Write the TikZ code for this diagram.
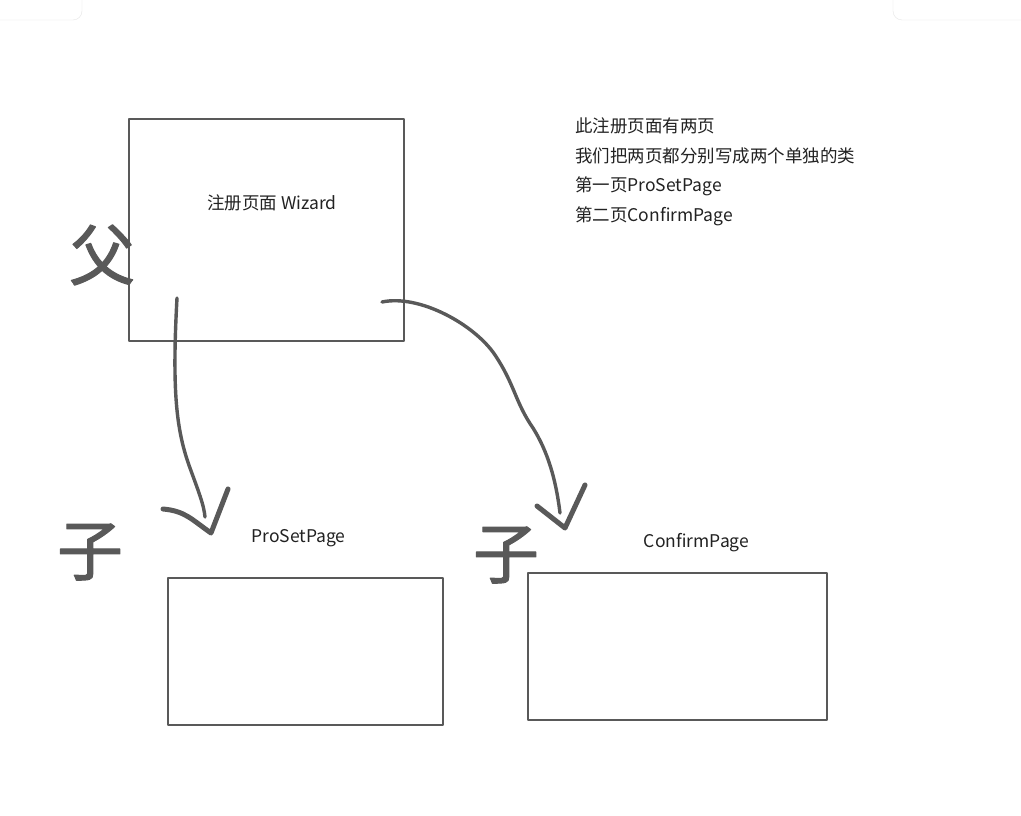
\documentclass[tikz,border=0pt]{standalone}
\usepackage{fontspec}
\newfontfamily\cjk{Noto Sans CJK SC}
\newfontfamily\handfont[FakeBold=1.6]{Noto Sans CJK SC}
\usepackage{tikz}
\usetikzlibrary{positioning}
\definecolor{ink}{RGB}{89,89,89}
\definecolor{txt}{RGB}{34,34,34}

\begin{document}
\begin{tikzpicture}[x=1pt, y=-1pt, line cap=round, line join=round,
  font=\cjk\fontsize{17.5}{21}\selectfont, text=txt,
  cls/.style={rectangle, draw=ink, line width=2.3pt, inner sep=0pt},
  lbl/.style={inner sep=1pt},
  hand/.style={font=\handfont\fontsize{66}{66}\selectfont, text=ink, inner sep=0pt},
  stroke/.style={draw=ink, line width=3.4pt},
  tip/.style={draw=ink, line width=5pt},
  panel/.style={draw=black!10, fill=white, rounded corners=9pt}]
  \useasboundingbox[fill=white] (0,0) rectangle (1021,816);
  \draw[panel] (-12,-12) rectangle (82,20);
  \draw[panel] (893,-12) rectangle (1033,20);
  % classes
  \node[cls, minimum width=275pt, minimum height=222pt] (wiz) at (266.5,230) {};
  \node[lbl] (wiz-lbl) at (272,203) {注册页面 Wizard};
  \node[cls, minimum width=275pt, minimum height=147pt] (pro) at (305.5,651.5) {};
  \node[lbl, above=29pt of pro.north, xshift=-7pt] (pro-lbl) {ProSetPage};
  \node[cls, minimum width=299pt, minimum height=147pt] (conf) at (677.5,646.5) {};
  \node[lbl, above=19pt of conf.north, xshift=19pt] (conf-lbl) {ConfirmPage};
  % notes
  \node[lbl, anchor=west] (note1) at (574,126) {此注册页面有两页};
  \node[lbl, anchor=west] (note2) at (574,156) {我们把两页都分别写成两个单独的类};
  \node[lbl, anchor=west] (note3) at (574,186) {第一页ProSetPage};
  \node[lbl, anchor=west] (note4) at (574,216) {第二页ConfirmPage};
  % handwriting
  \node[hand] (fu) at (102,255) {父};
  \node[hand] (zi1) at (90,552) {子};
  \node[hand] (zi2) at (506,555) {子};
  \coordinate (a1s) at (177,298);
  \coordinate (a1e) at (205,517);
  \coordinate (a1t) at (211,533);
  \draw[stroke] (a1s) .. controls (172,390) and (176,430) .. (190,468) .. controls (198,490) and (204,505) .. (a1e);
  \draw[tip] (a1t) ++(-48,-24) .. controls +(22,2) and +(-20,-14) .. (a1t) -- ++(17,-44);
  \coordinate (a2s) at (382,302);
  \coordinate (a2e) at (560,513);
  \coordinate (a2t) at (565,528);
  \draw[stroke] (a2s) .. controls (420,294) and (475,325) .. (495,355) .. controls (515,385) and (515,402) .. (533,428) .. controls (548,452) and (556,480) .. (a2e);
  \draw[tip] (a2t) ++(-28,-22) -- (a2t) -- ++(20,-43);
\end{tikzpicture}
\end{document}
